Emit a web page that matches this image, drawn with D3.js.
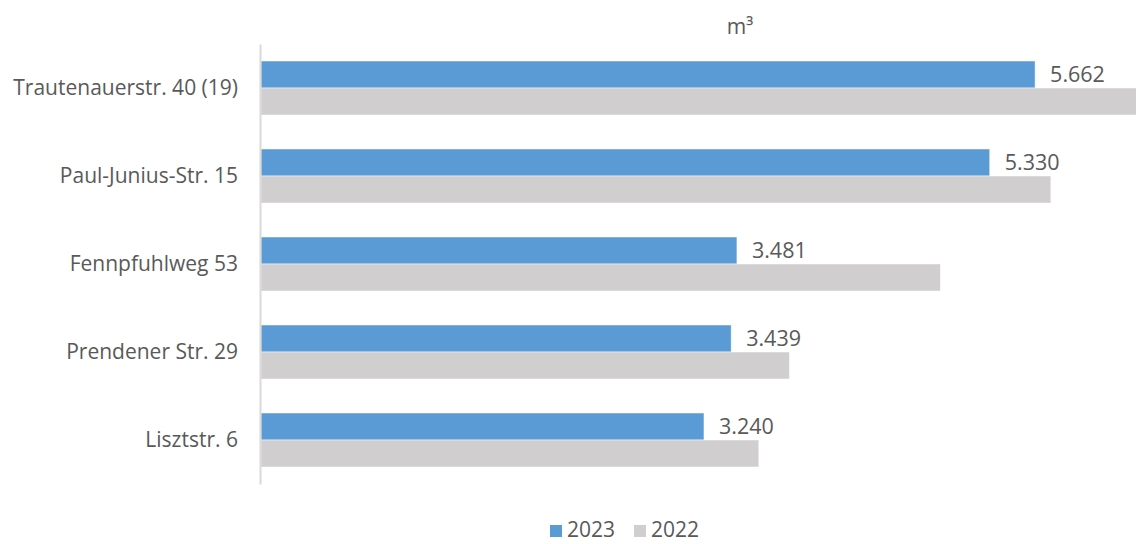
<!DOCTYPE html>
<html>
<head>
<meta charset="utf-8">
<script src="https://cdn.jsdelivr.net/npm/d3@7"></script>
<style>
  html, body { margin: 0; padding: 0; background: #fff; }
  svg { display: block; font-family: "Open Sans", sans-serif; }
</style>
</head>
<body>
<svg id="chart" width="1136" height="544"></svg>
<script>
// Wasserverbrauch je Standort in m³
const categories = ["Trautenauerstr. 40 (19)", "Paul-Junius-Str. 15", "Fennpfuhlweg 53", "Prendener Str. 29", "Lisztstr. 6"];
const seriesNames = ["2023", "2022"];
const values2023 = [5662, 5330, 3481, 3439, 3240];
const values2022 = [6450, 5777, 4969, 3865, 3641];
const unitLabel = "m³";

const colors = { "2023": "#5B9BD5", "2022": "#D0CECE" };
const textColor = "#595959";
const fmt = v => d3.format(",")(v).replace(/,/g, ".");

const svg = d3.select("#chart");
const W = 1136, H = 544;

const x = d3.scaleLinear().domain([0, 6400]).range([261, 1136]);
const y = d3.scaleBand().domain(categories).range([44, 484]).paddingInner(0.3864).paddingOuter(0.1932);
const ySub = d3.scaleBand().domain(seriesNames).range([0, y.bandwidth()]);

const rows = categories.map((c, i) => ({ cat: c, "2023": values2023[i], "2022": values2022[i] }));

svg.append("defs").append("clipPath").attr("id", "plotClip")
  .append("rect").attr("x", 0).attr("y", 0).attr("width", W).attr("height", H);

const groups = svg.append("g").attr("clip-path", "url(#plotClip)")
  .selectAll("g.row").data(rows).join("g")
  .attr("class", "row")
  .attr("transform", d => `translate(0,${y(d.cat)})`);

groups.selectAll("rect").data(d => seriesNames.map(s => ({ s, v: d[s] }))).join("rect")
  .attr("x", x(0))
  .attr("y", d => ySub(d.s))
  .attr("width", d => x(d.v) - x(0))
  .attr("height", ySub.bandwidth())
  .attr("fill", d => colors[d.s])
  .attr("stroke", "#ffffff")
  .attr("stroke-opacity", 0.6)
  .attr("stroke-width", 0.8);

// Werte für 2023
groups.append("text")
  .attr("x", d => x(d["2023"]) + 15)
  .attr("y", ySub("2023") + ySub.bandwidth() / 2)
  .attr("dy", "0.36em")
  .attr("fill", textColor)
  .attr("font-size", 21.5)
  .text(d => fmt(d["2023"]));

// Kategorieachse
const axis = svg.append("g")
  .attr("transform", `translate(260,0)`)
  .call(d3.axisLeft(y).tickSize(0).tickPadding(22));
axis.select(".domain").attr("stroke", "#d9d9d9").attr("stroke-width", 2);
axis.selectAll("text")
  .attr("fill", textColor)
  .attr("font-size", 21)
  .attr("font-family", "Open Sans, sans-serif");

// Einheit
svg.append("text")
  .attr("x", 740).attr("y", 34)
  .attr("text-anchor", "middle")
  .attr("fill", textColor)
  .attr("font-size", 21)
  .text(unitLabel);

// Legende
const legendPos = [550, 634];
const legend = svg.append("g").selectAll("g").data(seriesNames).join("g")
  .attr("transform", (d, i) => `translate(${legendPos[i]},524)`);
legend.append("rect").attr("y", 1).attr("width", 12).attr("height", 12).attr("fill", d => colors[d]);
legend.append("text")
  .attr("x", 17).attr("y", 13)
  .attr("fill", textColor)
  .attr("font-size", 21)
  .text(d => d);
</script>
</body>
</html>
